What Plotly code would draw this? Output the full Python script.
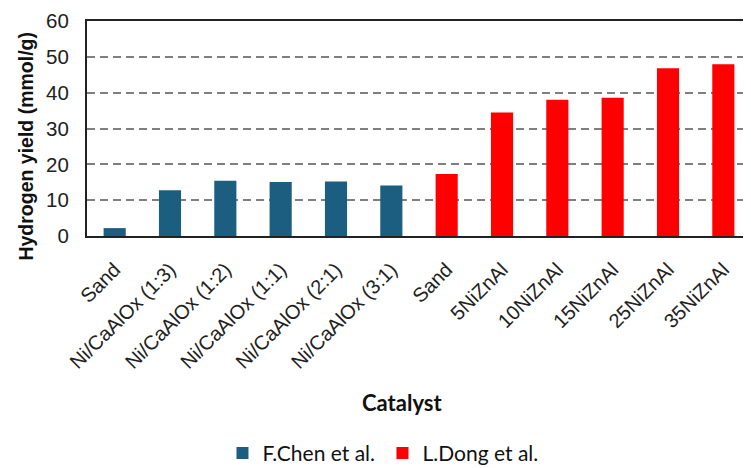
import plotly.graph_objects as go

categories = ["Sand", "Ni/CaAlOx (1:3)", "Ni/CaAlOx (1:2)", "Ni/CaAlOx (1:1)",
              "Ni/CaAlOx (2:1)", "Ni/CaAlOx (3:1)", "Sand", "5NiZnAl",
              "10NiZnAl", "15NiZnAl", "25NiZnAl", "35NiZnAl"]
chen_values = [2.2, 12.8, 15.4, 15.1, 15.2, 14.1]
dong_values = [17.3, 34.5, 38.0, 38.6, 46.8, 47.9]
series_names = ["F.Chen et al.", "L.Dong et al."]
y_ticks = [0, 10, 20, 30, 40, 50, 60]

positions = list(range(len(categories)))
chen_x = positions[:len(chen_values)]
dong_x = positions[len(chen_values):len(chen_values) + len(dong_values)]

BLUE = "#1B5E80"
RED = "#FF0000"
FONT = "Liberation Sans, Arial, sans-serif"
NARROW = "Lato, Roboto, sans-serif"

fig = go.Figure()
fig.add_trace(go.Bar(x=chen_x, y=chen_values, name=series_names[0], width=0.4,
                     marker=dict(color=BLUE, line=dict(width=0))))
fig.add_trace(go.Bar(x=dong_x, y=dong_values, name=series_names[1], width=0.4,
                     marker=dict(color=RED, line=dict(width=0))))

fig.update_layout(
    width=743, height=460,
    margin=dict(l=79, r=0, t=13, b=232, autoexpand=False),
    paper_bgcolor="white", plot_bgcolor="white",
    barmode="overlay",
    showlegend=True,
    legend=dict(orientation="h", x=0.445, xanchor="center", y=-0.915, yanchor="top",
                font=dict(family=NARROW, size=21, color="#111111"),
                itemwidth=30, tracegroupgap=0, entrywidth=115, entrywidthmode="pixels"),
    xaxis=dict(range=[-0.5, len(categories) - 0.5], tickmode="array",
               tickvals=positions, ticktext=categories, tickangle=-45,
               tickfont=dict(family=FONT, size=20, color="#222222"),
               showline=True, linecolor="#222222", linewidth=2, mirror=True,
               showgrid=False, zeroline=False, ticks="", ticklabelstandoff=12),
    yaxis=dict(range=[0, 60], tickmode="array", tickvals=y_ticks,
               tickfont=dict(family=FONT, size=20.5, color="#222222"),
               showline=True, linecolor="#222222", linewidth=2,
               showgrid=True, gridcolor="#7F7F7F", gridwidth=2, griddash="8px,5px",
               zeroline=False, ticks="", ticklabelstandoff=12),
    annotations=[
        dict(text="<b>Hydrogen yield (mmol/g)</b>", xref="paper", yref="paper",
             x=-0.092, y=0.42, xanchor="center", yanchor="middle", textangle=-90,
             showarrow=False, font=dict(family=FONT, size=19.5, color="#111111")),
        dict(text="<b>Catalyst</b>", xref="paper", yref="paper",
             x=0.474, y=-0.775, xanchor="center", yanchor="middle",
             showarrow=False, font=dict(family=NARROW, size=22, color="#111111")),
    ],
)

fig.write_html("out.html")
